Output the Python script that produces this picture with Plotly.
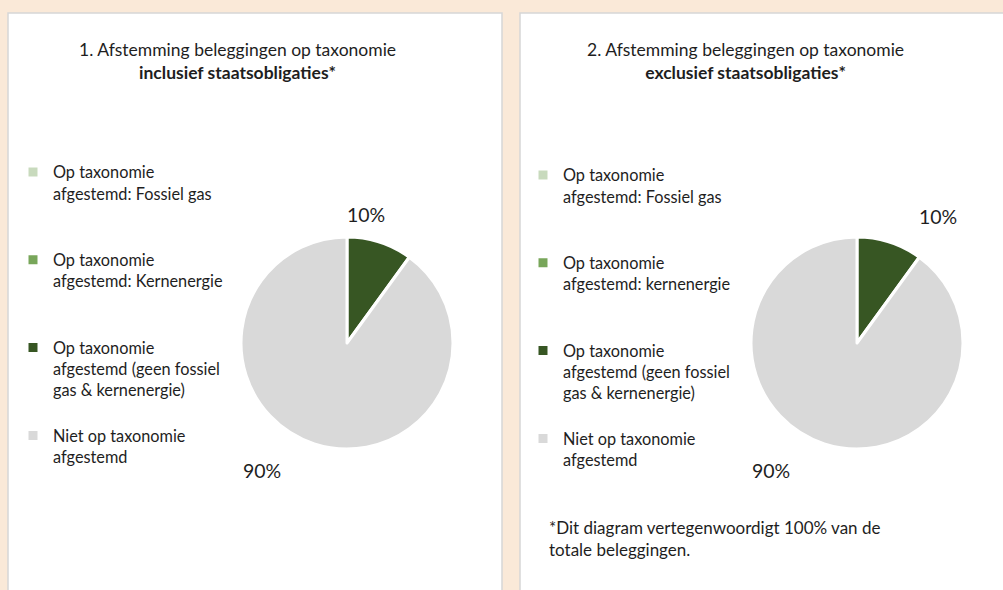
import plotly.graph_objects as go

# ---- data ----
labels_1 = [
    "Op taxonomie<br>afgestemd: Fossiel gas",
    "Op taxonomie<br>afgestemd: Kernenergie",
    "Op taxonomie<br>afgestemd (geen fossiel<br>gas & kernenergie)",
    "Niet op taxonomie<br>afgestemd",
]
labels_2 = [
    "Op taxonomie<br>afgestemd: Fossiel gas",
    "Op taxonomie<br>afgestemd: kernenergie",
    "Op taxonomie<br>afgestemd (geen fossiel<br>gas & kernenergie)",
    "Niet op taxonomie<br>afgestemd",
]
values_1 = [0, 0, 10, 90]
values_2 = [0, 0, 10, 90]
colors = ["#c8dabd", "#78a65a", "#375623", "#d9d9d9"]

title_1 = "1. Afstemming beleggingen op taxonomie<br><b>inclusief staatsobligaties*</b>"
title_2 = "2. Afstemming beleggingen op taxonomie<br><b>exclusief staatsobligaties*</b>"
footnote = "*Dit diagram vertegenwoordigt 100% van de<br>totale beleggingen."

W, H = 1003, 590
FONT = "Lato"
BG = "#fae9d8"
TXT = "#1e1e1e"


def px(x):
    return x / W


def py(y):
    return 1 - y / H


def pad(lbls, suffix=""):
    out = []
    for i, l in enumerate(lbls):
        n = l.count("<br>") + 1
        if i < len(lbls) - 1:
            l = l + "<br> " * (4 - n)
        out.append(l + suffix)
    return out


fig = go.Figure()

for vals, lbls, cx, leg, suf in [(values_1, labels_1, 347, "legend", ""),
                                 (values_2, labels_2, 857, "legend2", "\u200b")]:
    r = 106
    cy = 343
    fig.add_trace(go.Pie(
        labels=pad(lbls, suf),
        values=vals,
        sort=False,
        direction="clockwise",
        rotation=0,
        marker=dict(colors=colors, line=dict(color="white", width=3)),
        textinfo="none",
        hoverinfo="label+percent",
        showlegend=True,
        legend=leg,
        domain=dict(x=[px(cx - r), px(cx + r)], y=[py(cy + r), py(cy - r)]),
    ))

# percentage labels
annotations = []
for vals, pos in [(values_1, [(366, 214), (262, 470)]), (values_2, [(938, 217), (771, 470)])]:
    nz = [v for v in vals if v > 0]
    for v, (x, y) in zip(nz, pos):
        annotations.append(dict(x=px(x), y=py(y), xref="paper", yref="paper",
                                xanchor="center", yanchor="middle",
                                text=f"{v}%", showarrow=False,
                                font=dict(family=FONT, size=19.5, color=TXT)))

for t, x in [(title_1, 237), (title_2, 745)]:
    annotations.append(dict(x=px(x), y=py(61), xref="paper", yref="paper", text=t,
                            showarrow=False, align="center", xanchor="center", yanchor="middle",
                            font=dict(family=FONT, size=17.5, color=TXT)))
annotations.append(dict(x=px(547), y=py(538), xref="paper", yref="paper", text=footnote,
                        showarrow=False, align="left", xanchor="left", yanchor="middle",
                        font=dict(family=FONT, size=17, color=TXT)))

shapes = [
    dict(type="rect", xref="paper", yref="paper", x0=px(8), x1=px(502), y0=py(600), y1=py(13),
         fillcolor="white", line=dict(color="#d6d6d6", width=1.5), layer="below"),
    dict(type="rect", xref="paper", yref="paper", x0=px(520), x1=px(1010), y0=py(600), y1=py(13),
         fillcolor="white", line=dict(color="#d6d6d6", width=1.5), layer="below"),
]

legend_common = dict(
    font=dict(family=FONT, size=16.3, color=TXT),
    bgcolor="rgba(0,0,0,0)",
    valign="top",
    xanchor="left",
    yanchor="top",
    itemclick=False,
    itemdoubleclick=False,
)

fig.update_layout(
    width=W, height=H,
    margin=dict(l=0, r=0, t=0, b=0),
    paper_bgcolor=BG,
    plot_bgcolor=BG,
    annotations=annotations,
    shapes=shapes,
    legend=dict(x=px(13), y=py(155), **legend_common),
    legend2=dict(x=px(523), y=py(158), **legend_common),
)

fig.write_html("out.html",
               config={"displayModeBar": False},
               post_script="document.body.style.margin='0';document.body.style.overflow='hidden';")
